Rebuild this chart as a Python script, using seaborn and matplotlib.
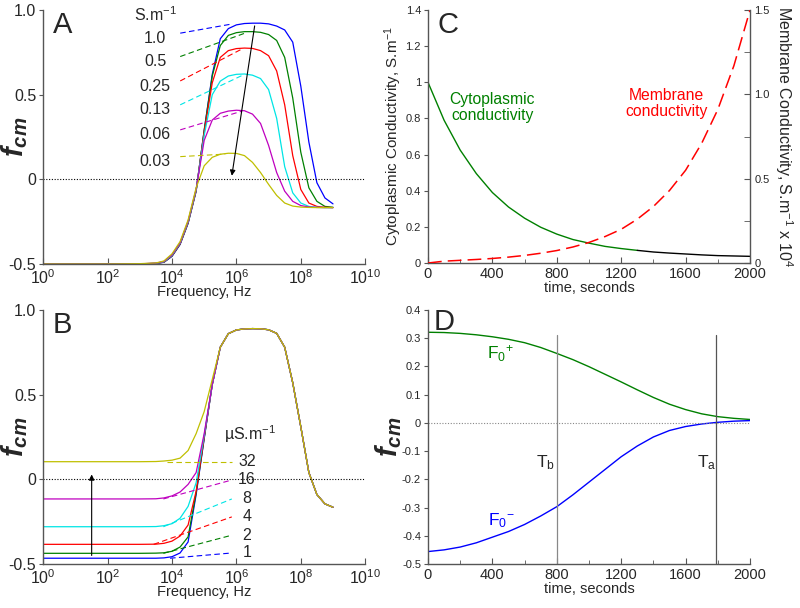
import matplotlib
matplotlib.use("Agg")
import matplotlib.pyplot as plt
import seaborn as sns
import numpy as np
import pandas as pd

# ---------------- data ----------------
freq_hz = [1e0, 1e1, 1e2, 1e3, 3.16e3, 5.62e3, 1e4, 1.78e4, 3.16e4, 5.62e4,
           1e5, 1.78e5, 3.16e5, 5.62e5, 1e6, 1.78e6, 3.16e6, 5.62e6, 1e7,
           1.78e7, 3.16e7, 5.62e7, 1e8, 1.78e8, 3.16e8, 5.62e8, 1e9]

# Panel A: cytoplasm conductivity series (S/m)
A_labels = ["1.0", "0.5", "0.25", "0.13", "0.06", "0.03"]
A_s10 = [-0.5, -0.5, -0.5, -0.499, -0.497, -0.49, -0.455, -0.385, -0.26, -0.07,
         0.29, 0.62, 0.83, 0.89, 0.912, 0.92, 0.922, 0.922, 0.918, 0.905, 0.882,
         0.81, 0.55, 0.22, -0.02, -0.11, -0.145]
A_s05 = [-0.5, -0.5, -0.5, -0.499, -0.497, -0.489, -0.453, -0.383, -0.258, -0.068,
         0.29, 0.61, 0.79, 0.85, 0.866, 0.872, 0.872, 0.868, 0.855, 0.82, 0.72,
         0.48, 0.16, -0.05, -0.13, -0.16, -0.165]
A_s025 = [-0.5, -0.5, -0.5, -0.499, -0.496, -0.488, -0.451, -0.381, -0.255, -0.065,
          0.28, 0.57, 0.72, 0.76, 0.772, 0.775, 0.773, 0.76, 0.73, 0.64, 0.44,
          0.14, -0.06, -0.14, -0.16, -0.165, -0.167]
A_s013 = [-0.5, -0.5, -0.5, -0.499, -0.496, -0.487, -0.449, -0.378, -0.252, -0.062,
          0.26, 0.50, 0.58, 0.61, 0.62, 0.622, 0.615, 0.595, 0.53, 0.36, 0.075,
          -0.08, -0.14, -0.16, -0.165, -0.167, -0.167]
A_s006 = [-0.5, -0.5, -0.5, -0.499, -0.495, -0.485, -0.446, -0.375, -0.248, -0.058,
          0.23, 0.35, 0.39, 0.403, 0.408, 0.405, 0.385, 0.33, 0.20, 0.04, -0.07,
          -0.13, -0.155, -0.163, -0.166, -0.167, -0.167]
A_s003 = [-0.5, -0.5, -0.5, -0.498, -0.494, -0.482, -0.44, -0.368, -0.24, -0.05,
          0.08, 0.13, 0.148, 0.154, 0.153, 0.14, 0.10, 0.04, -0.03, -0.095, -0.14,
          -0.158, -0.164, -0.166, -0.167, -0.167, -0.167]
A_label_value = [0.833, 0.695, 0.551, 0.410, 0.262, 0.104]
A_leader_end_freq = [7.2e5, 2.1e6, 1.5e6, 1.65e6, 1.5e6, 4.5e5]

# Panel B: medium conductivity series (uS/m)
B_labels = ["1", "2", "4", "8", "16", "32"]
B_m1 = [-0.466, -0.466, -0.466, -0.466, -0.466, -0.464, -0.457, -0.435, -0.37, -0.09,
        0.24, 0.56, 0.78, 0.86, 0.882, 0.888, 0.89, 0.889, 0.883, 0.862, 0.78,
        0.57, 0.31, 0.04, -0.09, -0.145, -0.165]
B_m2 = [-0.437, -0.437, -0.437, -0.437, -0.436, -0.434, -0.425, -0.40, -0.34, -0.08,
        0.245, 0.56, 0.78, 0.86, 0.882, 0.888, 0.89, 0.889, 0.883, 0.862, 0.78,
        0.57, 0.31, 0.04, -0.09, -0.145, -0.165]
B_m4 = [-0.384, -0.384, -0.384, -0.384, -0.383, -0.378, -0.365, -0.335, -0.27, -0.07,
        0.25, 0.56, 0.78, 0.86, 0.882, 0.888, 0.89, 0.889, 0.883, 0.862, 0.78,
        0.57, 0.31, 0.04, -0.09, -0.145, -0.165]
B_m8 = [-0.28, -0.28, -0.28, -0.28, -0.279, -0.274, -0.262, -0.23, -0.16, -0.02,
        0.26, 0.56, 0.78, 0.86, 0.882, 0.888, 0.89, 0.889, 0.883, 0.862, 0.78,
        0.57, 0.31, 0.04, -0.09, -0.145, -0.165]
B_m16 = [-0.116, -0.116, -0.116, -0.116, -0.115, -0.11, -0.098, -0.075, -0.03, 0.04,
         0.27, 0.56, 0.78, 0.86, 0.882, 0.888, 0.89, 0.889, 0.883, 0.862, 0.78,
         0.57, 0.31, 0.04, -0.09, -0.145, -0.165]
B_m32 = [0.104, 0.104, 0.104, 0.104, 0.105, 0.108, 0.113, 0.125, 0.17, 0.27,
         0.40, 0.59, 0.78, 0.86, 0.882, 0.888, 0.89, 0.889, 0.883, 0.862, 0.78,
         0.57, 0.31, 0.04, -0.09, -0.145, -0.165]
B_label_value = [-0.435, -0.33, -0.222, -0.116, -0.004, 0.104]
B_leader_start_freq = [8.7e3, 5.4e3, 2.7e3, 5.4e3, 5.4e3, 6.9e3]

# Panel C / D: time series (seconds)
time_s = [0, 100, 200, 300, 400, 500, 600, 700, 800, 900, 1000, 1100, 1200,
          1300, 1400, 1500, 1600, 1700, 1800, 1900, 2000]
cyto_cond = [1.0, 0.79, 0.625, 0.495, 0.39, 0.31, 0.248, 0.198, 0.16, 0.13, 0.11,
             0.092, 0.08, 0.07, 0.061, 0.055, 0.05, 0.045, 0.041, 0.039, 0.037]
memb_cond = [0.0, 0.011, 0.016, 0.021, 0.027, 0.035, 0.045, 0.058, 0.074, 0.095,
             0.122, 0.157, 0.2, 0.26, 0.335, 0.43, 0.55, 0.71, 0.91, 1.17, 1.5]
F0_plus = [0.321, 0.320, 0.317, 0.312, 0.305, 0.296, 0.284, 0.267, 0.246, 0.224,
           0.199, 0.172, 0.145, 0.117, 0.09, 0.066, 0.047, 0.032, 0.022, 0.016, 0.012]
F0_minus = [-0.456, -0.45, -0.44, -0.425, -0.405, -0.385, -0.36, -0.33, -0.297,
            -0.255, -0.21, -0.165, -0.12, -0.082, -0.05, -0.027, -0.013, -0.004,
            0.002, 0.006, 0.008]
T_b, T_a = 800, 1790

# ---------------- style ----------------
sns.set_style("ticks")
plt.rcParams["font.family"] = ["Liberation Sans", "DejaVu Sans"]
plt.rcParams["mathtext.fontset"] = "custom"
plt.rcParams["mathtext.rm"] = "Liberation Sans"
plt.rcParams["mathtext.it"] = "Liberation Sans:italic:bold"
plt.rcParams["mathtext.bf"] = "Liberation Sans:bold"

cols = ["#0000ff", "#008000", "#ff0000", "#00e5e5", "#bf00bf", "#bfbf00"]
spine_col = "#555555"

fig = plt.figure(figsize=(8, 6.08), dpi=100)
axA = fig.add_axes([0.054, 0.5658, 0.4025, 0.4178])
axB = fig.add_axes([0.054, 0.0724, 0.4025, 0.4178])
axC = fig.add_axes([0.535, 0.5674, 0.4025, 0.4161])
axD = fig.add_axes([0.535, 0.0724, 0.4025, 0.4178])


def style_axes(ax, ysize=11, xsize=11):
    for s in ["top", "right"]:
        ax.spines[s].set_visible(False)
    for s in ["left", "bottom"]:
        ax.spines[s].set_color(spine_col)
        ax.spines[s].set_linewidth(1.0)
    ax.tick_params(axis="x", direction="in", length=4, width=0.8, color=spine_col,
                   labelsize=xsize, pad=3)
    ax.tick_params(axis="y", direction="out", length=3, width=0.8, color=spine_col,
                   labelsize=ysize, pad=2)


def freq_panel(ax, series, letter):
    for y, c in zip(series, cols):
        sns.lineplot(x=freq_hz, y=y, ax=ax, color=c, lw=0.9, sort=False,
                     estimator=None)
    ax.set_xscale("log")
    ax.set_xlim(1, 1e10)
    ax.set_ylim(-0.5, 1.0)
    ax.axhline(0, color="black", lw=0.8, ls=(0, (1, 1.5)))
    ax.set_xticks([1e0, 1e2, 1e4, 1e6, 1e8, 1e10])
    ax.set_xticklabels([r"$10^{%d}$" % k for k in [0, 2, 4, 6, 8, 10]])
    ax.xaxis.set_minor_locator(matplotlib.ticker.NullLocator())
    ax.set_yticks([-0.5, 0, 0.5, 1.0])
    ax.set_yticklabels(["-0.5", "0", "0.5", "1.0"])
    style_axes(ax, ysize=11.5, xsize=11.5)
    ax.set_xlabel("Frequency, Hz", fontsize=10.5, labelpad=-1)
    ax.set_ylabel(r"$f_{cm}$", fontsize=21)
    ax.yaxis.set_label_coords(-0.04, 0.5)
    ax.text(0.03, 0.909, letter, transform=ax.transAxes, fontsize=21,
            va="baseline", ha="left")


# ---------------- Panel A ----------------
A_series = [A_s10, A_s05, A_s025, A_s013, A_s006, A_s003]
freq_panel(axA, A_series, "A")
lab_x = 3.0e3
axA.text(lab_x, 0.975, "S.m$^{-1}$", fontsize=11.5, ha="center", va="center")
for lab, v, c, yser, xe in zip(A_labels, A_label_value, cols, A_series,
                               A_leader_end_freq):
    axA.text(lab_x, v, lab, fontsize=11.5, ha="center", va="center")
    peak = max(yser)
    axA.plot([1.8e4, xe], [v + 0.03, peak - 0.005], color=c, lw=0.8,
             ls=(0, (5, 3)))
axA.annotate("", xy=(7.0e5, 0.005), xytext=(3.8e6, 0.922),
             arrowprops=dict(arrowstyle="-|>", color="black", lw=0.8,
                             mutation_scale=8))

# ---------------- Panel B ----------------
B_series = [B_m1, B_m2, B_m4, B_m8, B_m16, B_m32]
freq_panel(axB, B_series, "B")
lab_xb = 2.1e6
axB.text(2.6e6, 0.265, "µS.m$^{-1}$", fontsize=11.5, ha="center", va="center")
for lab, v, c, yser, xs in zip(B_labels, B_label_value, cols, B_series,
                               B_leader_start_freq):
    axB.text(lab_xb, v, lab, fontsize=11.5, ha="center", va="center")
    axB.plot([xs, 7.2e5], [yser[0], v], color=c, lw=0.8, ls=(0, (5, 3)))
axB.annotate("", xy=(32, 0.045), xytext=(32, B_m1[0]),
             arrowprops=dict(arrowstyle="-|>", color="black", lw=0.8,
                             mutation_scale=8))

# ---------------- Panel C ----------------
split = time_s.index(1300)
sns.lineplot(x=time_s[:split + 1], y=cyto_cond[:split + 1], ax=axC,
             color="#008000", lw=1.0, estimator=None, sort=False)
sns.lineplot(x=time_s[split:], y=cyto_cond[split:], ax=axC, color="black",
             lw=1.0, estimator=None, sort=False)
axC.set_xlim(0, 2000)
axC.set_ylim(0, 1.4)
axC.set_xticks([0, 400, 800, 1200, 1600, 2000])
axC.set_xticks([200, 600, 1000, 1400, 1800], minor=True)
axC.set_yticks([0, 0.2, 0.4, 0.6, 0.8, 1.0, 1.2, 1.4])
axC.set_yticklabels(["0", "0.2", "0.4", "0.6", "0.8", "1", "1.2", "1.4"])
style_axes(axC, ysize=8, xsize=10.5)
axC.tick_params(axis="x", which="minor", direction="in", length=3,
                color=spine_col)
axC.set_xlabel("time, seconds", fontsize=10.5, labelpad=0)
axC.set_ylabel("Cytoplasmic Conductivity, S.m$^{-1}$", fontsize=11)
axC.yaxis.set_label_coords(-0.075, 0.5)
axC.text(0.031, 0.909, "C", transform=axC.transAxes, fontsize=21,
         va="baseline", ha="left")
axC.text(400, 0.86, "Cytoplasmic\nconductivity", color="#008000",
         fontsize=11.3, ha="center", va="center", linespacing=1.1)

axC2 = axC.twinx()
sns.lineplot(x=time_s, y=memb_cond, ax=axC2, color="#ff0000", lw=1.1,
             estimator=None, sort=False, dashes=False)
axC2.lines[-1].set_linestyle((0, (9, 4)))
axC2.set_ylim(0, 1.5)
axC2.set_yticks([0, 0.5, 1.0, 1.5])
axC2.set_yticklabels(["0", "0.5", "1.0", "1.5"])
axC2.set_yticks([0.25, 0.75, 1.25], minor=True)
for s in ["top", "left", "bottom"]:
    axC2.spines[s].set_visible(False)
axC2.spines["right"].set_color(spine_col)
axC2.spines["right"].set_linewidth(1.0)
axC2.tick_params(axis="y", which="both", direction="in", length=4,
                 color=spine_col, labelsize=8, pad=3)
axC2.set_ylabel("Membrane Conductivity, S.m$^{-1}$ x 10$^{4}$", fontsize=11.5,
                rotation=270)
axC2.yaxis.set_label_coords(1.14, 0.5)
axC2.text(1480, 0.945, "Membrane\nconductivity", color="#ff0000",
          fontsize=11.3, ha="center", va="center", linespacing=1.1)

# ---------------- Panel D ----------------
sns.lineplot(x=time_s, y=F0_plus, ax=axD, color="#008000", lw=1.0,
             estimator=None, sort=False)
sns.lineplot(x=time_s, y=F0_minus, ax=axD, color="#0000ff", lw=1.0,
             estimator=None, sort=False)
axD.set_xlim(0, 2000)
axD.set_ylim(-0.5, 0.4)
axD.axhline(0, color="#888888", lw=0.8, ls=(0, (1, 1.5)))
axD.plot([T_b, T_b], [-0.5, 0.31], color="#888888", lw=0.9)
axD.plot([T_a, T_a], [-0.5, 0.31], color="#555555", lw=0.9)
axD.set_xticks([0, 400, 800, 1200, 1600, 2000])
axD.set_xticks([200, 600, 1000, 1400, 1800], minor=True)
yt = [0.4, 0.3, 0.2, 0.1, 0, -0.1, -0.2, -0.3, -0.4, -0.5]
axD.set_yticks(yt)
axD.set_yticklabels(["0.4", "0.3", "0.2", "0.1", "0", "-0.1", "-0.2", "-0.3",
                     "-0.4", "-0.5"])
style_axes(axD, ysize=8, xsize=10.5)
axD.tick_params(axis="x", which="minor", direction="in", length=3,
                color=spine_col)
axD.set_xlabel("time, seconds", fontsize=10.5, labelpad=0)
axD.set_ylabel(r"$f_{cm}$", fontsize=21)
axD.yaxis.set_label_coords(-0.075, 0.5)
axD.text(0.016, 0.921, "D", transform=axD.transAxes, fontsize=21,
         va="baseline", ha="left")
axD.text(T_b - 70, -0.142, r"T$_\mathrm{b}$", fontsize=12.5, ha="center",
         va="center")
axD.text(T_a - 60, -0.142, r"T$_\mathrm{a}$", fontsize=12.5, ha="center",
         va="center")
axD.text(450, 0.245, r"F$_\mathrm{0}$$^\mathrm{+}$", color="#008000",
         fontsize=12.5, ha="center", va="center")
axD.text(455, -0.345, r"F$_\mathrm{0}$$^\mathrm{-}$", color="#0000ff",
         fontsize=12.5, ha="center", va="center")

fig.savefig("out.png", dpi=100)
